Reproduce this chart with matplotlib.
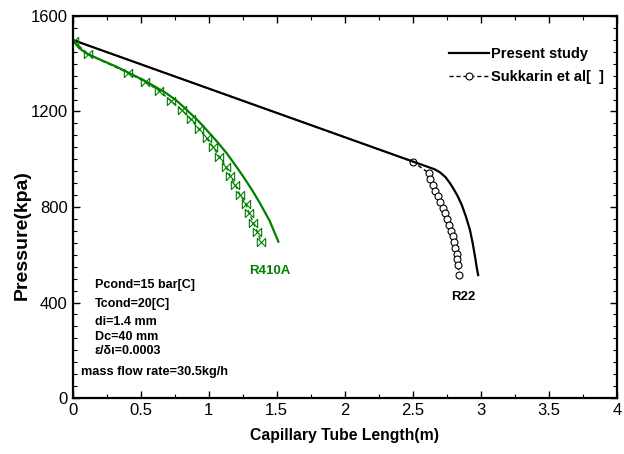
import numpy as np
import matplotlib
matplotlib.use("Agg")
import matplotlib.pyplot as plt
from matplotlib.ticker import MultipleLocator

plt.rcParams['font.family'] = ['Liberation Sans', 'DejaVu Sans']

# R22, present study
r22_x = [0, 2.62, 2.66, 2.70, 2.74, 2.774, 2.80, 2.83, 2.86, 2.89, 2.92, 2.94, 2.957, 2.97, 2.98]
r22_p = [1500, 966, 958, 945, 925, 899, 875, 845, 808, 760, 703, 648, 592, 545, 515]

# R22, Sukkarin et al
r22s_x = [0, 2.50, 2.62, 2.627, 2.645, 2.665, 2.685, 2.703, 2.72, 2.737, 2.752,
          2.767, 2.78, 2.792, 2.803, 2.813, 2.821, 2.828, 2.834, 2.838]
r22s_p = [1500, 990, 941, 917, 893, 869, 845, 821, 797, 773, 749,
          725, 701, 677, 653, 629, 605, 581, 557, 515]

# R410A, present study
r410_x = [0, 0.05, 0.104, 0.2, 0.325, 0.42, 0.52, 0.6, 0.69, 0.77, 0.84, 0.92,
          0.986, 1.06, 1.133, 1.19, 1.255, 1.32, 1.378, 1.45, 1.512]
r410_p = [1500, 1465, 1443, 1418, 1387, 1360, 1332, 1306, 1276, 1243, 1206, 1163,
          1122, 1075, 1025, 980, 927, 870, 815, 740, 655]

# R410A, Sukkarin et al
r410s_x = [0.01, 0.114, 0.405, 0.53, 0.638, 0.724, 0.802, 0.868, 0.932, 0.986,
           1.035, 1.079, 1.128, 1.157, 1.196, 1.231, 1.273, 1.299, 1.328, 1.358, 1.385]
r410s_p = [1496, 1439, 1362, 1325, 1286, 1244, 1206, 1167, 1125, 1087,
           1050, 1010, 969, 931, 892, 850, 812, 773, 734, 696, 655]

params = ["Pcond=15 bar[C]", "Tcond=20[C]", "di=1.4 mm", "Dc=40 mm", "\u03b5/\u03b4\u03b9=0.0003"]

green = "#008000"
bowtie = [(-1, -1), (-1, 1), (1, -1), (1, 1), (-1, -1)]

fig = plt.figure(figsize=(6.24, 4.54), dpi=100)
ax = fig.add_axes([0.1162, 0.1233, 0.8726, 0.8415])

ax.plot(r22s_x, r22s_p, color="black", lw=1.0, ls=(0, (3, 2)), marker="o",
        ms=5, mfc="white", mec="black", mew=0.8, markevery=slice(1, None),
        label="Sukkarin et al[  ]")
ax.plot(r22_x, r22_p, color="black", lw=1.6, label="Present study")

ax.plot(r410s_x, r410s_p, color=green, lw=1.0, ls=(0, (3, 2)), marker=bowtie,
        ms=6, mfc="none", mec=green, mew=0.8)
ax.plot(r410_x, r410_p, color=green, lw=1.6)

ax.set_xlim(0, 4)
ax.set_ylim(0, 1600)
ax.xaxis.set_major_locator(MultipleLocator(0.5))
ax.xaxis.set_minor_locator(MultipleLocator(0.25))
ax.yaxis.set_major_locator(MultipleLocator(400))
ax.yaxis.set_minor_locator(MultipleLocator(50))
ax.xaxis.set_major_formatter(plt.FuncFormatter(lambda v, p: "%g" % v))
ax.tick_params(which="both", direction="in", top=True, right=True, labelsize=12)
ax.tick_params(which="major", length=5, width=1)
ax.tick_params(which="minor", length=3, width=0.8)
for s in ax.spines.values():
    s.set_linewidth(1.6)

ax.set_xlabel("Capillary Tube Length(m)", fontsize=11.3, fontweight="bold", labelpad=7)
fig.text(22 / 624, 1 - 235 / 454, "Pressure(kpa)", rotation=90, fontsize=14,
         fontweight="bold", ha="center", va="center")

# legend: present study first
h, l = ax.get_legend_handles_labels()
ax.legend([h[1], h[0]], [l[1], l[0]], loc="upper right", bbox_to_anchor=(1.0, 0.952),
          frameon=False, handlelength=2.7, handletextpad=0.15, labelspacing=0.6,
          prop={"weight": "bold", "size": 10.5})

ax.text(1.45, 530, "R410A", color=green, fontsize=9.5, fontweight="bold", ha="center", va="center")
ax.text(2.87, 423, "R22", color="black", fontsize=9.5, fontweight="bold", ha="center", va="center")

ys = [475, 395, 318, 255, 195]
for txt, y in zip(params, ys):
    ax.text(0.165, y, txt, fontsize=9, fontweight="bold", va="center")
ax.text(0.06, 108, "mass flow rate=30.5kg/h", fontsize=9.2, fontweight="bold", va="center")

fig.savefig("out.png", dpi=100)
